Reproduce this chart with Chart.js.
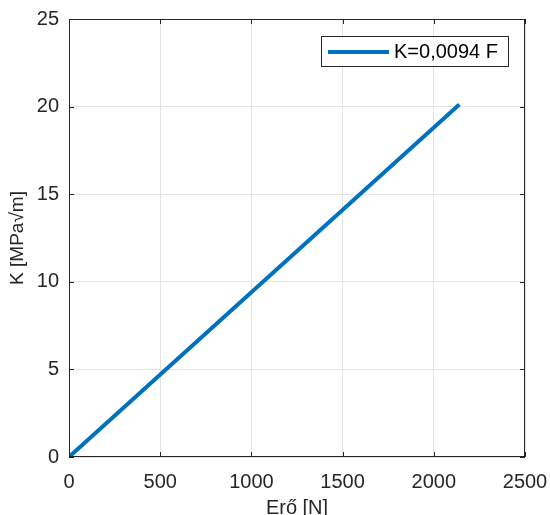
<!DOCTYPE html>
<html>
<head>
<meta charset="utf-8">
<script src="https://cdn.jsdelivr.net/npm/chart.js@4/dist/chart.umd.min.js"></script>
<style>
  html, body { margin: 0; padding: 0; background: #fff; }
  #wrap { width: 550px; height: 515px; }
</style>
</head>
<body>
<div id="wrap"><canvas id="chart" width="550" height="515"></canvas></div>
<script>
// data
const force = [0, 2140];          // Erő [N]
const kValues = [0, 20.12];       // K [MPa√m]
const seriesLabel = "K=0,0094 F";
const xTicks = [0, 500, 1000, 1500, 2000, 2500];
const yTicks = [0, 5, 10, 15, 20, 25];

const axisColor = "#262626";
const lineColor = "#0072BD";
const font = "Arial, 'Liberation Sans', sans-serif";

// box around the axes with inward ticks, plus the legend inside the plot
const boxPlugin = {
    id: "matlabBox",
    afterDraw(chart) {
        const { ctx, chartArea: a, scales } = chart;
        ctx.save();
        ctx.strokeStyle = axisColor;
        ctx.lineWidth = 1;
        ctx.strokeRect(a.left + 0.5, a.top + 0.5, a.right - a.left - 1, a.bottom - a.top - 1);

        ctx.beginPath();
        xTicks.forEach(v => {
            const x = Math.round(scales.x.getPixelForValue(v)) + 0.5;
            ctx.moveTo(x, a.bottom); ctx.lineTo(x, a.bottom - 5);
            ctx.moveTo(x, a.top); ctx.lineTo(x, a.top + 5);
        });
        yTicks.forEach(v => {
            const y = Math.round(scales.y.getPixelForValue(v)) + 0.5;
            ctx.moveTo(a.left, y); ctx.lineTo(a.left + 5, y);
            ctx.moveTo(a.right, y); ctx.lineTo(a.right - 5, y);
        });
        ctx.stroke();

        // legend
        const lx = a.right - 204, ly = a.top + 17, lw = 187, lh = 30;
        ctx.fillStyle = "#fff";
        ctx.fillRect(lx, ly, lw, lh);
        ctx.strokeStyle = axisColor;
        ctx.strokeRect(lx + 0.5, ly + 0.5, lw, lh);
        ctx.strokeStyle = lineColor;
        ctx.lineWidth = 4;
        ctx.beginPath();
        ctx.moveTo(lx + 7, ly + lh / 2 + 1);
        ctx.lineTo(lx + 68, ly + lh / 2 + 1);
        ctx.stroke();
        ctx.fillStyle = "#000";
        ctx.font = "20px " + font;
        ctx.textBaseline = "middle";
        ctx.fillText(seriesLabel, lx + 73, ly + lh / 2 + 1);
        ctx.restore();
    }
};

new Chart(document.getElementById("chart").getContext("2d"), {
    type: "line",
    data: {
        datasets: [{
            label: seriesLabel,
            data: force.map((f, i) => ({ x: f, y: kValues[i] })),
            borderColor: lineColor,
            borderWidth: 4,
            pointRadius: 0,
            fill: false,
            tension: 0
        }]
    },
    options: {
        responsive: false,
        animation: false,
        layout: { padding: { top: 19, right: 25, left: 0, bottom: 0 } },
        plugins: { legend: { display: false }, tooltip: { enabled: false } },
        scales: {
            x: {
                type: "linear",
                min: 0, max: 2500,
                afterBuildTicks: s => { s.ticks = xTicks.map(v => ({ value: v })); },
                afterFit: s => { s.height = 58; s.paddingLeft = 0; s.paddingRight = 0; },
                grid: { color: "#e3e3e3", drawTicks: false },
                border: { display: false },
                ticks: {
                    color: axisColor, font: { size: 20, family: font }, padding: 13, maxRotation: 0,
                    callback: v => String(v)
                },
                title: {
                    display: true, text: "Erő [N]", color: axisColor,
                    font: { size: 20, family: font }, padding: { top: 0, bottom: -5 }
                }
            },
            y: {
                type: "linear",
                min: 0, max: 25,
                afterBuildTicks: s => { s.ticks = yTicks.map(v => ({ value: v })); },
                afterFit: s => { s.width = 69; s.paddingTop = 0; s.paddingBottom = 0; },
                grid: { color: "#e3e3e3", drawTicks: false },
                border: { display: false },
                ticks: {
                    color: axisColor, font: { size: 20, family: font }, padding: 10,
                    callback: v => String(v)
                },
                title: {
                    display: true, text: "K [MPa√m]", color: axisColor,
                    font: { size: 19, family: font }, padding: { top: 6, bottom: 0 }
                }
            }
        }
    },
    plugins: [boxPlugin]
});
</script>
</body>
</html>
